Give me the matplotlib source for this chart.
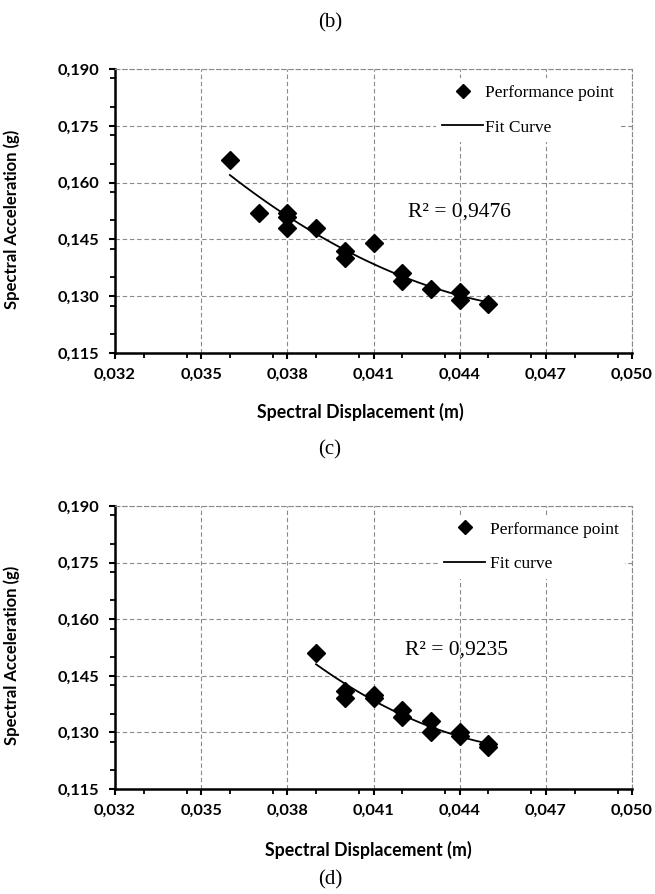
import numpy as np
import matplotlib.pyplot as plt
from matplotlib.ticker import MultipleLocator, FuncFormatter
from matplotlib.lines import Line2D

# panel (c)
sd_c = [0.036, 0.037, 0.038, 0.038, 0.038, 0.039, 0.040, 0.040,
        0.041, 0.042, 0.042, 0.043, 0.044, 0.044, 0.045]
sa_c = [0.166, 0.152, 0.152, 0.151, 0.148, 0.148, 0.142, 0.140,
        0.144, 0.136, 0.134, 0.132, 0.131, 0.129, 0.128]
r2_c = "R² = 0,9476"

# panel (d)
sd_d = [0.039, 0.040, 0.040, 0.041, 0.041, 0.042, 0.042,
        0.043, 0.043, 0.044, 0.044, 0.045, 0.045]
sa_d = [0.151, 0.141, 0.139, 0.140, 0.139, 0.136, 0.134,
        0.133, 0.130, 0.130, 0.129, 0.127, 0.126]
r2_d = "R² = 0,9235"

x_ticks = [0.032, 0.035, 0.038, 0.041, 0.044, 0.047, 0.050]
y_ticks = [0.115, 0.130, 0.145, 0.160, 0.175, 0.190]

SANS = ["Lato", "DejaVu Sans"]
SERIF = ["Liberation Serif", "DejaVu Serif"]
GRID = "#8a8a8a"
DASH = (0, (4, 2.5))


def comma(v, pos):
    return f"{v:.3f}".replace(".", ",")


def trend(x, y):
    # 2nd order polynomial trendline through the points
    x = np.asarray(x)
    y = np.asarray(y)
    coef = np.polyfit(x, y, 2)
    xs = np.linspace(x.min(), x.max(), 100)
    return xs, np.polyval(coef, xs)


def draw_panel(ax, sd, sa, fit_label, r2, r2_pos, leg_anchor, textpad):
    ax.plot(sd, sa, linestyle="none", marker="D", markersize=9,
            color="black", zorder=4)
    xs, ys = trend(sd, sa)
    ax.plot(xs, ys, color="black", linewidth=1.3, zorder=3)

    ax.set_xlim(x_ticks[0], x_ticks[-1])
    ax.set_ylim(y_ticks[0], y_ticks[-1])
    ax.set_xticks(x_ticks)
    ax.set_yticks(y_ticks)
    ax.xaxis.set_minor_locator(MultipleLocator(0.0015))
    ax.yaxis.set_minor_locator(MultipleLocator(0.0075))
    ax.xaxis.set_major_formatter(FuncFormatter(comma))
    ax.yaxis.set_major_formatter(FuncFormatter(comma))

    ax.grid(True, which="major", color=GRID, linewidth=0.8, linestyle=DASH)
    ax.set_axisbelow(True)

    for s in ["left", "bottom"]:
        ax.spines[s].set_linewidth(1.8)
        ax.spines[s].set_color("black")
    for s in ["top", "right"]:
        ax.spines[s].set_linewidth(0.8)
        ax.spines[s].set_color(GRID)
        ax.spines[s].set_linestyle(DASH)

    ax.tick_params(which="major", direction="out", length=4.5, width=1.5,
                   color="black", pad=6.5, top=False, right=False)
    ax.tick_params(which="minor", direction="out", length=3.5, width=1.3,
                   color="black", top=False, right=False)
    for lab in ax.get_xticklabels() + ax.get_yticklabels():
        lab.set_family(SANS)
        lab.set_fontweight("bold")
        lab.set_fontsize(11.8)

    ax.text(r2_pos[0], r2_pos[1], r2, family=SERIF, fontsize=15.5,
            ha="left", va="center", zorder=5)

    handles = [
        Line2D([], [], linestyle="none", marker="D", markersize=7.5, color="black"),
        Line2D([], [], color="black", linewidth=1.3),
    ]
    leg = ax.legend(handles, ["Performance point", fit_label],
                    loc="upper right", bbox_to_anchor=leg_anchor,
                    borderaxespad=0, frameon=True, fancybox=False,
                    edgecolor="none", facecolor="white", framealpha=1,
                    prop={"family": SERIF, "size": 12.5},
                    handlelength=2.4, handletextpad=textpad,
                    labelspacing=1.08, borderpad=0.35)
    leg.set_zorder(6)


W, H = 655, 894
fig = plt.figure(figsize=(6.55, 8.94), dpi=100)
ax_c = fig.add_axes([115 / W, 1 - 353 / H, 517 / W, 284 / H])
ax_d = fig.add_axes([115 / W, 1 - 789 / H, 517 / W, 283 / H])

draw_panel(ax_c, sd_c, sa_c, "Fit Curve", r2_c, (0.0422, 0.1522),
           (0.977, 0.967), 0.1)
draw_panel(ax_d, sd_d, sa_d, "Fit curve", r2_d, (0.0421, 0.1519),
           (0.986, 0.967), 0.25)

# axis titles and panel letters
for yc in (219, 655):
    fig.text(12 / W, 1 - yc / H, "Spectral Acceleration (g)", rotation=90,
             ha="center", va="center", family=SANS, fontweight="bold",
             fontsize=12)
fig.text(360 / W, 1 - 412 / H, "Spectral Displacement (m)",
         ha="center", va="center", family=SANS, fontweight="bold", fontsize=12.8)
fig.text(368 / W, 1 - 850 / H, "Spectral Displacement (m)",
         ha="center", va="center", family=SANS, fontweight="bold", fontsize=12.8)

fig.text(330 / W, 1 - 23 / H, "(b)", ha="center", va="center",
         family=SERIF, fontsize=15)
fig.text(330 / W, 1 - 450 / H, "(c)", ha="center", va="center",
         family=SERIF, fontsize=15)
fig.text(330 / W, 1 - 880 / H, "(d)", ha="center", va="center",
         family=SERIF, fontsize=15)

fig.savefig("out.png", dpi=100, facecolor="white")
